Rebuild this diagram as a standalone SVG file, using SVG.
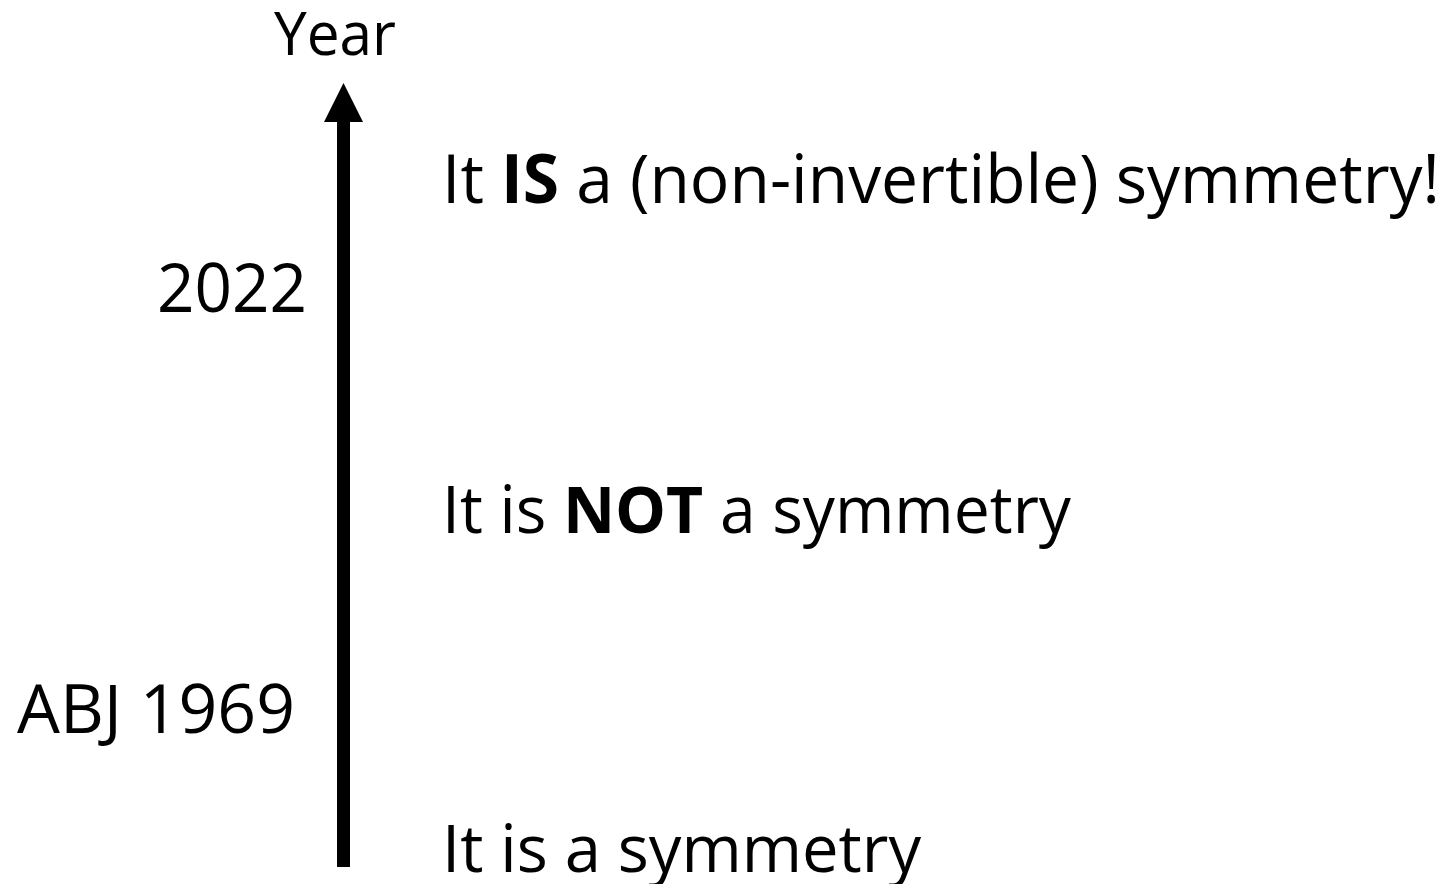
<svg xmlns="http://www.w3.org/2000/svg" width="1453" height="884" viewBox="0 0 1453 884">
<style>
text{font-family:"Open Sans","Noto Sans","Liberation Sans",sans-serif;fill:#000;}
.b{font-weight:bold;}
</style>
<defs>
<marker id="ah" markerUnits="userSpaceOnUse" viewBox="0 0 39 39" markerWidth="39" markerHeight="39" refX="0" refY="19.5" orient="auto">
<path d="M0,0 L39,19.5 L0,39 z" fill="#000"/>
</marker>
</defs>
<rect width="1453" height="884" fill="#fff"/>
<g id="connectors">
<line x1="343.5" y1="867" x2="343.5" y2="122" stroke="#000" stroke-width="13" marker-end="url(#ah)"/>
</g>
<g id="axis-label"><text x="274" y="55" font-size="60" textLength="122" lengthAdjust="spacingAndGlyphs">Year</text></g>
<g id="year-2022"><text x="157" y="312" font-size="68" textLength="150" lengthAdjust="spacingAndGlyphs">2022</text></g>
<g id="year-1969"><text x="17" y="733" font-size="67" textLength="278" lengthAdjust="spacingAndGlyphs">ABJ 1969</text></g>
<g id="stmt-top"><text x="442" y="203" font-size="68" textLength="998" lengthAdjust="spacingAndGlyphs">It <tspan class="b">IS</tspan> a (non-invertible) symmetry!</text></g>
<g id="stmt-mid"><text x="442" y="533" font-size="65" textLength="629" lengthAdjust="spacingAndGlyphs">It is <tspan class="b">NOT</tspan> a symmetry</text></g>
<g id="stmt-bottom"><text x="442" y="872" font-size="65" textLength="479" lengthAdjust="spacingAndGlyphs">It is a symmetry</text></g>
</svg>
